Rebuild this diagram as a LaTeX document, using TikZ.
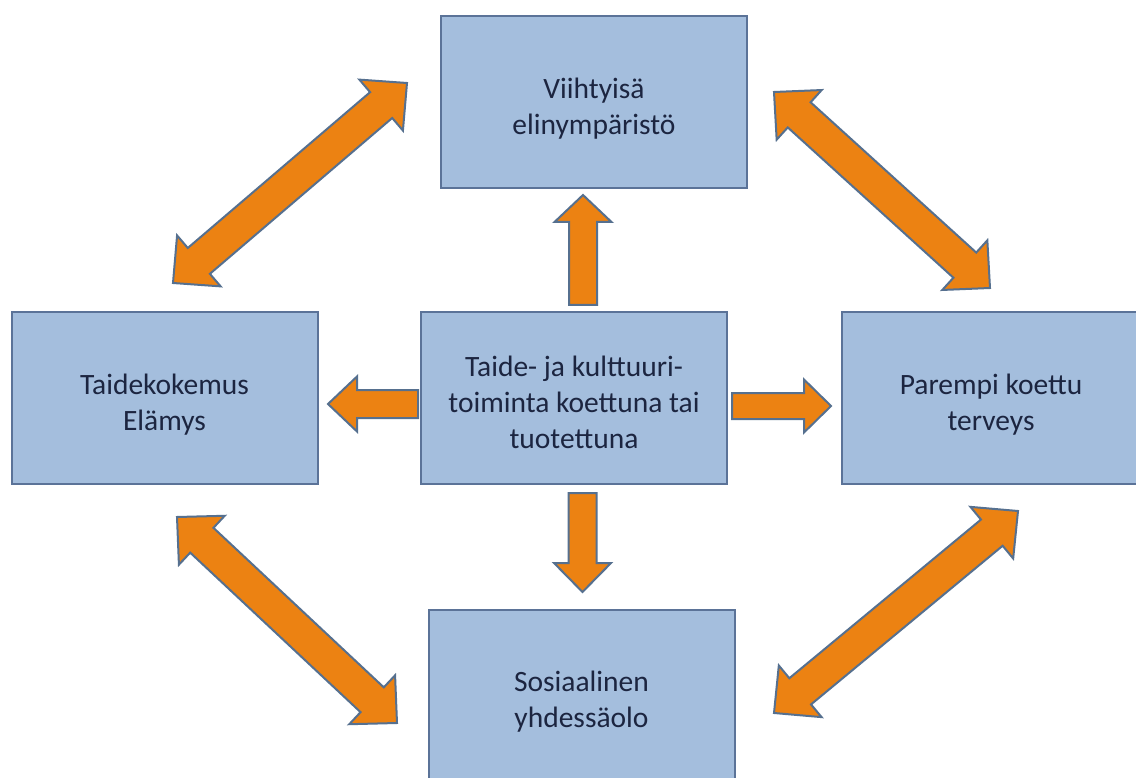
\documentclass[tikz,border=0pt]{standalone}
\usepackage{fontspec}
\setmainfont{Carlito}
\usetikzlibrary{calc}
\definecolor{boxfill}{HTML}{A4BEDD}
\definecolor{boxborder}{HTML}{5B7398}
\definecolor{arrowfill}{HTML}{EC8212}
\definecolor{arrowborder}{HTML}{56708F}
\definecolor{textnavy}{HTML}{1C2540}
\newcommand{\boxfont}{\fontsize{29.5}{36}\selectfont}
% text lowered slightly inside its box, as in the original
\newcommand{\boxtext}[1]{\raisebox{-7pt}[\height][\depth]{\begin{tabular}{@{}c@{}}#1\end{tabular}}}
% double block arrow: #1 #2 tips, #3 head length, #4 half head width, #5 half shaft width
\newcommand{\DblBlockArrow}[5]{%
  \filldraw[blockarr] (#1)
   -- ($(#1)!#3!(#2)!#4!90:(#2)$)
   -- ($(#1)!#3!(#2)!#5!90:(#2)$)
   -- ($(#2)!#3!(#1)!#5!-90:(#1)$)
   -- ($(#2)!#3!(#1)!#4!-90:(#1)$)
   -- (#2)
   -- ($(#2)!#3!(#1)!#4!90:(#1)$)
   -- ($(#2)!#3!(#1)!#5!90:(#1)$)
   -- ($(#1)!#3!(#2)!#5!-90:(#2)$)
   -- ($(#1)!#3!(#2)!#4!-90:(#2)$)
   -- cycle;}
% single block arrow: #1 tail, #2 tip
\newcommand{\BlockArrow}[5]{%
  \filldraw[blockarr] ($(#1)!#5!90:(#2)$)
   -- ($(#2)!#3!(#1)!#5!-90:(#1)$)
   -- ($(#2)!#3!(#1)!#4!-90:(#1)$)
   -- (#2)
   -- ($(#2)!#3!(#1)!#4!90:(#1)$)
   -- ($(#2)!#3!(#1)!#5!90:(#1)$)
   -- ($(#1)!#5!-90:(#2)$)
   -- cycle;}
\begin{document}
\begin{tikzpicture}[x=1pt,y=-1pt,
  box/.style={draw=boxborder, fill=boxfill, line width=2pt, inner sep=0pt,
    minimum width=306pt, minimum height=172pt,
    text=textnavy, font=\boxfont},
  blockarr/.style={fill=arrowfill, draw=arrowborder, line width=2pt, line join=miter}]
\useasboundingbox (0,0) rectangle (1136,778);
\clip (0,0) rectangle (1136,778);
\fill[white] (0,0) rectangle (1136,778);

% boxes
\node[box] (top) at (594,102) {\boxtext{Viihtyisä\\elinympäristö}};
\node[box] (left) at (164.5,398) {\boxtext{Taidekokemus\\Elämys}};
\node[box] (center) at (574,398) {\boxtext{Taide- ja kulttuuri-\\toiminta koettuna tai\\tuotettuna}};
\node[box, minimum width=298pt] (right) at (991,398) {\boxtext{Parempi koettu\\terveys}};
\node[box, minimum height=170pt] (bottom) at (581.5,695) {\boxtext{Sosiaalinen\\yhdessäolo}};

% arrow end points
\coordinate (up-s) at (583,305);
\coordinate (up-e) at (583,195);
\coordinate (dn-s) at (582.5,493);
\coordinate (dn-e) at (582.5,592);
\coordinate (lf-s) at (418,404);
\coordinate (lf-e) at (328,404);
\coordinate (rt-s) at (732,406);
\coordinate (rt-e) at (831,406);
\coordinate (tl-a) at (407,83);
\coordinate (tl-b) at (173,283);
\coordinate (tr-a) at (774,92);
\coordinate (tr-b) at (990,288);
\coordinate (br-a) at (1018,511);
\coordinate (br-b) at (774,713);
\coordinate (bl-a) at (177,517);
\coordinate (bl-b) at (397,723);

% straight arrows from the centre box
\BlockArrow{up-s}{up-e}{27pt}{28.5pt}{14pt}
\BlockArrow{dn-s}{dn-e}{29pt}{28.5pt}{14pt}
\BlockArrow{lf-s}{lf-e}{29pt}{27.5pt}{14pt}
\BlockArrow{rt-s}{rt-e}{27pt}{26.5pt}{13pt}

% diagonal double arrows
\DblBlockArrow{tl-a}{tl-b}{34pt}{33.5pt}{17pt}
\DblBlockArrow{tr-a}{tr-b}{34pt}{33.5pt}{17pt}
\DblBlockArrow{br-a}{br-b}{34pt}{33.5pt}{17pt}
\DblBlockArrow{bl-a}{bl-b}{34pt}{33.5pt}{17pt}
\end{tikzpicture}
\end{document}
